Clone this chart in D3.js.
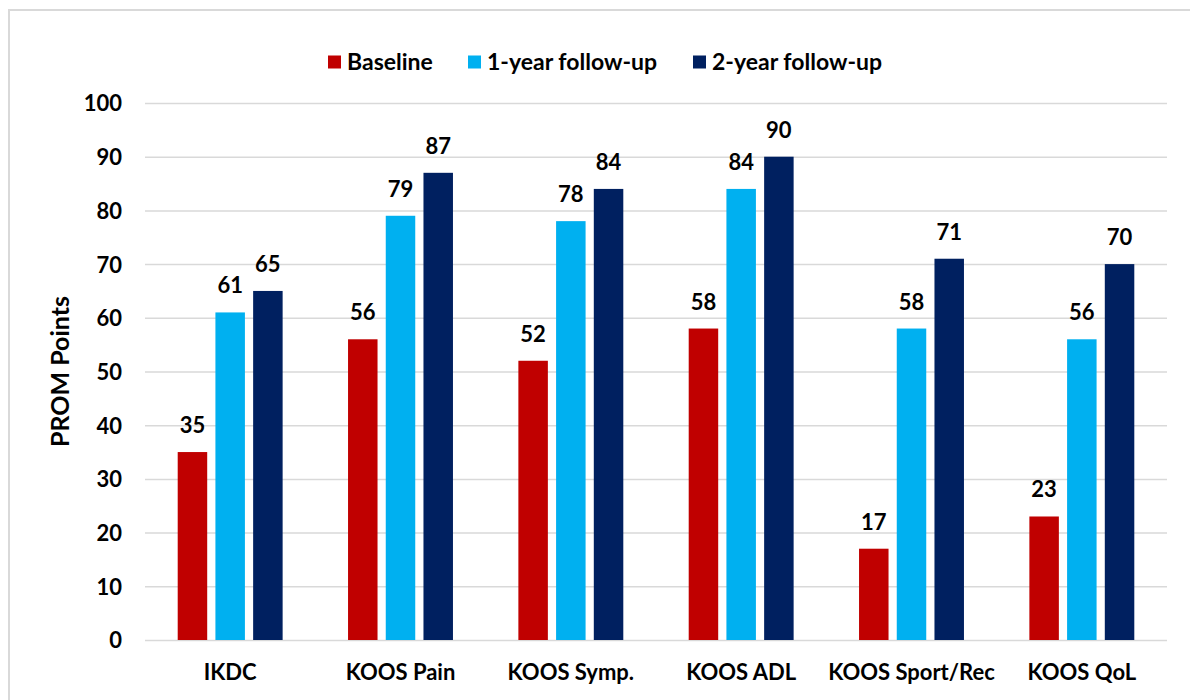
<!DOCTYPE html>
<html>
<head>
<meta charset="utf-8">
<script src="https://cdn.jsdelivr.net/npm/d3@7"></script>
<style>
  html, body { margin: 0; padding: 0; background: #fff; }
  svg { display: block; }
  text { font-family: Lato, "Open Sans", sans-serif; font-weight: 700; fill: #000; }
</style>
</head>
<body>
<svg id="chart" width="1190" height="700"></svg>
<script>
const categories = ["IKDC", "KOOS Pain", "KOOS Symp.", "KOOS ADL", "KOOS Sport/Rec", "KOOS QoL"];
const seriesNames = ["Baseline", "1-year follow-up", "2-year follow-up"];
const baseline = [35, 56, 52, 58, 17, 23];
const followUp1 = [61, 79, 78, 84, 58, 56];
const followUp2 = [65, 87, 84, 90, 71, 70];
const yTicks = [0, 10, 20, 30, 40, 50, 60, 70, 80, 90, 100];
const colors = ["#C00000", "#00B0F0", "#002060"];

const series = [baseline, followUp1, followUp2];

const svg = d3.select("#chart");

// outer frame (top and left edges visible)
svg.append("path")
  .attr("d", "M9,700 L9,10 L1190,10")
  .attr("fill", "none")
  .attr("stroke", "#d9d9d9")
  .attr("stroke-width", 2);

const plotLeft = 145, plotRight = 1167, plotTop = 103, plotBottom = 640;

const y = d3.scaleLinear().domain([0, 100]).range([plotBottom, plotTop]);
const x0 = d3.scaleBand().domain(categories).range([plotLeft, plotRight])
  .paddingInner(0.384).paddingOuter(0.192);
const x1 = d3.scaleBand().domain(d3.range(seriesNames.length)).range([0, x0.bandwidth()])
  .paddingInner(0.218).paddingOuter(0);

// gridlines
const yAxis = d3.axisLeft(y).tickValues(yTicks).tickSize(-(plotRight - plotLeft)).tickPadding(23);
const gy = svg.append("g").attr("transform", `translate(${plotLeft},0)`).call(yAxis);
gy.select(".domain").remove();
gy.selectAll(".tick line").attr("stroke", "#d9d9d9").attr("stroke-width", 1.5);
gy.selectAll(".tick text").attr("font-size", 22).attr("font-family", "Lato, 'Open Sans', sans-serif")
  .attr("font-weight", 700).attr("fill", "#000").attr("dy", "0.36em");

// bars
const groups = svg.append("g").selectAll("g")
  .data(categories)
  .join("g")
  .attr("transform", d => `translate(${x0(d)},0)`);

groups.selectAll("rect")
  .data((d, i) => series.map((s, j) => ({ j, v: s[i] })))
  .join("rect")
  .attr("x", d => x1(d.j))
  .attr("y", d => y(d.v))
  .attr("width", x1.bandwidth())
  .attr("height", d => y(0) - y(d.v))
  .attr("fill", d => colors[d.j]);

groups.selectAll("text.val")
  .data((d, i) => series.map((s, j) => ({ j, v: s[i] })))
  .join("text")
  .attr("class", "val")
  .attr("x", d => x1(d.j) + x1.bandwidth() / 2)
  .attr("y", d => y(d.v) - 19)
  .attr("text-anchor", "middle")
  .attr("font-size", 22)
  .text(d => d.v);

// x axis labels
const xAxis = d3.axisBottom(x0).tickSize(0).tickPadding(24);
const gx = svg.append("g").attr("transform", `translate(0,${plotBottom})`).call(xAxis);
gx.select(".domain").remove();
gx.selectAll(".tick text").attr("font-size", 22).attr("font-family", "Lato, 'Open Sans', sans-serif")
  .attr("font-weight", 700).attr("fill", "#000");

// y axis title
svg.append("text")
  .attr("transform", `translate(69,${(plotTop + plotBottom) / 2}) rotate(-90)`)
  .attr("text-anchor", "middle")
  .attr("font-size", 25)
  .text("PROM Points");

// legend
const legendX = [328, 468, 693];
const legend = svg.append("g").selectAll("g")
  .data(seriesNames)
  .join("g")
  .attr("transform", (d, i) => `translate(${legendX[i]},62)`);
legend.append("rect").attr("x", 0).attr("y", -6.5).attr("width", 13).attr("height", 13)
  .attr("fill", (d, i) => colors[i]);
legend.append("text").attr("x", 19).attr("dy", "0.36em").attr("font-size", 23).text(d => d);
</script>
</body>
</html>
